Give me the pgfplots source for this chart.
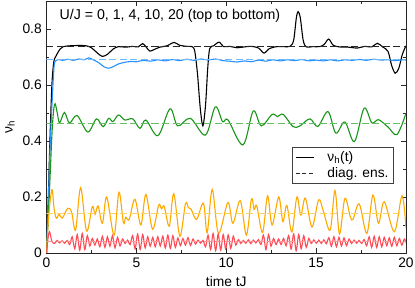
\documentclass[border=0pt]{standalone}
\usepackage{fontspec}
\setmainfont{Liberation Sans}
\usepackage{pgfplots}
\pgfplotsset{compat=1.18}
\definecolor{cblue}{RGB}{40,145,255}
\definecolor{cgreen}{RGB}{25,150,25}
\definecolor{corange}{RGB}{255,168,0}
\definecolor{cred}{RGB}{255,75,85}
\definecolor{dblue}{RGB}{110,185,255}
\definecolor{dgreen}{RGB}{100,190,100}
\definecolor{dorange}{RGB}{255,208,100}
\definecolor{dred}{RGB}{255,150,150}
\newcommand{\ff}{\fontsize{13.8}{16}\selectfont}
\begin{document}
\ff
\begin{tikzpicture}
\path[use as bounding box] (-46.5pt,-35pt) rectangle (368.5pt,253pt);
\begin{axis}[
  at={(0,0)}, anchor=south west,
  scale only axis, width=359.5pt, height=252pt,
  xmin=0, xmax=20, ymin=0, ymax=0.9,
  xtick={0,5,10,15,20}, ytick={0,0.2,0.4,0.6,0.8},
  minor x tick num=1, minor y tick num=1,
  tick align=inside, major tick length=5pt, minor tick length=3pt,
  /pgf/number format/assume math mode=true,
  /pgf/number format/fixed,
  tick label style={font=\ff},
  label style={font=\ff},
  axis line style={line width=0.8pt, black!85},
  every tick/.style={line width=0.7pt, black!85},
  xlabel={time tJ}, ylabel={ν\textsubscript{h}},
  xlabel style={at={(axis description cs:0.5,-0.131)}, anchor=base, inner sep=0pt},
  ylabel style={at={(axis description cs:-0.1015,0.5)}, anchor=center},
  legend style={at={(axis description cs:0.683,0.421)}, anchor=north west,
    draw=black!75, line width=0.6pt, font=\ff,
    inner xsep=3pt, inner ysep=2pt, row sep=0pt},
  legend cell align=left,
  legend image code/.code={\draw[#1] (0pt,0pt) -- (18pt,0pt); \path (29pt,0pt);},
  clip=true,
]
% U/J = 0 (black)
\addplot[black, line width=1.1pt, smooth, tension=0.5] coordinates {
(0,0) (0.1,0.2) (0.2,0.42) (0.3,0.6) (0.4,0.68) (0.5,0.7) (0.6,0.712) (0.75,0.728) (0.93,0.737)
(1.3,0.740) (1.8,0.741) (2.2,0.740) (2.5,0.733) (2.8,0.716) (3.1,0.702) (3.4,0.710) (3.7,0.728)
(4.0,0.737) (4.4,0.735) (4.8,0.738) (5.1,0.736) (5.35,0.748) (5.55,0.735) (5.75,0.721) (6.0,0.727)
(6.3,0.735) (6.7,0.740) (7.1,0.752) (7.4,0.742) (7.8,0.738) (8.1,0.737) (8.25,0.72) (8.4,0.64)
(8.55,0.52) (8.7,0.454) (8.85,0.53) (8.97,0.66) (9.08,0.73) (9.3,0.74) (9.6,0.753) (9.85,0.737)
(10.2,0.738) (10.6,0.733) (11.0,0.736) (11.4,0.738) (11.8,0.732) (12.1,0.714) (12.4,0.730)
(12.8,0.737) (13.2,0.737) (13.55,0.738) (13.75,0.76) (13.9,0.84) (14.0,0.862) (14.12,0.84)
(14.28,0.76) (14.45,0.736) (14.8,0.737) (15.2,0.737) (15.45,0.745) (15.7,0.764) (15.95,0.742)
(16.3,0.736) (16.8,0.735) (17.3,0.732) (17.7,0.738) (18.1,0.736) (18.4,0.749) (18.7,0.736)
(19.0,0.72) (19.2,0.67) (19.4,0.642) (19.6,0.66) (19.8,0.71) (20,0.74)
};
\addlegendentry{ν\textsubscript{h}(t)}
\addplot[black!85, line width=1pt, dash pattern=on 7pt off 3.5pt,
  legend image code/.code={\draw[black!85, line width=1pt, dash pattern=on 4pt off 2.5pt] (0pt,0pt) -- (18pt,0pt); \path (29pt,0pt);}]
  coordinates {(0,0.736) (20,0.736)};
\addlegendentry{diag. ens.}
% U/J = 1 (blue)
\addplot[cblue, line width=1.1pt, smooth, tension=0.5, forget plot] coordinates {
(0,0) (0.1,0.18) (0.2,0.38) (0.32,0.55) (0.42,0.665) (0.5,0.686) (0.65,0.691) (0.9,0.688)
(1.2,0.692) (1.5,0.688) (1.8,0.693) (2.1,0.690) (2.35,0.697) (2.6,0.690) (2.9,0.680) (3.2,0.665)
(3.45,0.660) (3.7,0.665) (4.0,0.675) (4.35,0.681) (4.7,0.684) (5.0,0.683) (5.4,0.688) (5.8,0.685)
(6.2,0.690) (6.6,0.686) (7.0,0.691) (7.4,0.687) (7.8,0.692) (8.2,0.688) (8.6,0.693) (9.0,0.689)
(9.4,0.693) (9.8,0.687) (10.2,0.685) (10.6,0.682) (11.0,0.686) (11.4,0.683) (11.8,0.689)
(12.2,0.685) (12.6,0.690) (13.0,0.686) (13.4,0.690) (13.8,0.687) (14.2,0.691) (14.6,0.686)
(15.0,0.689) (15.4,0.686) (15.8,0.690) (16.2,0.686) (16.6,0.690) (17.0,0.688) (17.4,0.691)
(17.8,0.688) (18.2,0.692) (18.6,0.689) (19.0,0.690) (19.4,0.687) (19.8,0.690) (20,0.689)
};
\addplot[dblue, line width=1pt, dash pattern=on 7pt off 3.5pt, forget plot] coordinates {(0,0.692) (20,0.692)};
% U/J = 4 (green)
\addplot[cgreen, line width=1.1pt, smooth, tension=0.55, forget plot] coordinates {
(0,0) (0.15,0.2) (0.3,0.42) (0.4,0.51) (0.48,0.533) (0.6,0.5) (0.73,0.465) (1.0,0.502)
(1.28,0.464) (1.7,0.491) (2.3,0.432) (2.78,0.479) (3.15,0.451) (3.46,0.481) (3.7,0.469)
(4.0,0.493) (4.36,0.475) (4.8,0.479) (5.2,0.445) (5.53,0.475) (6.2,0.419) (6.87,0.515)
(7.3,0.454) (8.0,0.481) (8.84,0.421) (9.39,0.522) (9.8,0.469) (10.1,0.475) (10.93,0.386)
(11.5,0.507) (11.95,0.454) (12.55,0.495) (12.85,0.487) (13.17,0.495) (13.72,0.451) (14.1,0.454)
(14.65,0.479) (15.1,0.452) (15.66,0.505) (16.1,0.428) (16.6,0.468) (17.13,0.398) (17.67,0.517)
(18.1,0.465) (18.47,0.476) (19.0,0.45) (19.5,0.423) (20,0.499)
};
\addplot[dgreen, line width=1pt, dash pattern=on 7pt off 3.5pt, forget plot] coordinates {(0,0.461) (20,0.461)};
% U/J = 10 (orange)
\addplot[corange, line width=1.1pt, smooth, tension=0.55, forget plot] coordinates {
(0,0) (0.12,0.13) (0.3,0.226) (0.42,0.16) (0.55,0.124) (0.7,0.138) (0.88,0.125) (1.19,0.160)
(1.4,0.145) (1.62,0.082) (1.9,0.233) (2.23,0.078) (2.55,0.166) (2.7,0.138) (2.87,0.168)
(3.11,0.106) (3.35,0.200) (3.76,0.064) (4.03,0.217) (4.28,0.108) (4.41,0.128) (4.6,0.120)
(4.92,0.192) (5.25,0.100) (5.53,0.209) (5.9,0.085) (6.24,0.171) (6.4,0.158) (6.55,0.166)
(6.83,0.096) (7.08,0.212) (7.42,0.060) (7.73,0.176) (7.9,0.162) (8.05,0.156) (8.35,0.120)
(8.73,0.178) (8.94,0.073) (9.22,0.227) (9.57,0.070) (10.09,0.180) (10.37,0.106) (10.78,0.187)
(11.12,0.064) (11.4,0.193) (11.55,0.155) (11.7,0.168) (12.02,0.073) (12.3,0.204) (12.55,0.100)
(12.92,0.200) (13.15,0.112) (13.37,0.170) (13.65,0.075) (13.93,0.200) (14.15,0.135) (14.4,0.196)
(14.77,0.093) (15.14,0.190) (15.4,0.150) (15.78,0.082) (16.05,0.223) (16.3,0.068) (16.6,0.195)
(16.9,0.130) (17.05,0.120) (17.4,0.175) (17.82,0.070) (18.16,0.207) (18.47,0.106) (18.79,0.183)
(19.35,0.076) (19.78,0.204) (20,0.088)
};
\addplot[dorange, line width=1pt, dash pattern=on 7pt off 3.5pt, forget plot] coordinates {(0,0.142) (20,0.142)};
% U/J = 20 (red)
\addplot[cred, line width=1.1pt, smooth, tension=0.5, forget plot] coordinates {
(0,0) (0.08,0.05) (0.17,0.076) (0.3,0.042)
(0.45,0.034) (0.59,0.045) (0.73,0.036) (0.87,0.044) (1.01,0.035) (1.15,0.045) (1.29,0.030)
(1.43,0.058) (1.57,0.015) (1.71,0.066) (1.85,0.010) (1.99,0.070) (2.13,0.012) (2.27,0.062)
(2.41,0.025) (2.55,0.052) (2.69,0.028) (2.83,0.050) (2.97,0.022) (3.11,0.060) (3.25,0.020)
(3.39,0.058) (3.53,0.024) (3.67,0.062) (3.81,0.018) (3.95,0.056) (4.09,0.025) (4.23,0.050)
(4.37,0.034) (4.51,0.046) (4.65,0.030) (4.79,0.062) (4.93,0.014) (5.07,0.068) (5.21,0.012)
(5.35,0.066) (5.49,0.018) (5.63,0.058) (5.77,0.024) (5.91,0.056) (6.05,0.022) (6.19,0.058)
(6.33,0.025) (6.47,0.060) (6.61,0.018) (6.75,0.064) (6.89,0.016) (7.03,0.062) (7.17,0.020)
(7.31,0.054) (7.45,0.026) (7.59,0.052) (7.73,0.028) (7.87,0.055) (8.01,0.027) (8.15,0.050)
(8.29,0.032) (8.43,0.046) (8.57,0.035) (8.71,0.045) (8.85,0.022) (8.99,0.064) (9.13,0.012)
(9.27,0.070) (9.41,0.008) (9.55,0.068) (9.69,0.010) (9.83,0.066) (9.97,0.014) (10.11,0.065)
(10.25,0.016) (10.39,0.060) (10.53,0.028) (10.67,0.048) (10.81,0.034) (10.95,0.045) (11.09,0.035)
(11.23,0.047) (11.37,0.033) (11.51,0.046) (11.65,0.036) (11.79,0.048) (11.93,0.030) (12.07,0.064)
(12.21,0.012) (12.35,0.066) (12.49,0.024) (12.63,0.052) (12.77,0.030) (12.91,0.050) (13.05,0.030)
(13.19,0.052) (13.33,0.026) (13.47,0.062) (13.61,0.014) (13.75,0.068) (13.89,0.008) (14.03,0.066)
(14.17,0.015) (14.31,0.062) (14.45,0.020) (14.59,0.052) (14.73,0.034) (14.87,0.047) (15.01,0.035)
(15.15,0.046) (15.29,0.034) (15.43,0.047) (15.57,0.033) (15.71,0.055) (15.85,0.024) (15.99,0.058)
(16.13,0.022) (16.27,0.056) (16.41,0.025) (16.55,0.054) (16.69,0.026) (16.83,0.050) (16.97,0.034)
(17.11,0.046) (17.25,0.035) (17.39,0.045) (17.53,0.034) (17.67,0.048) (17.81,0.026) (17.95,0.058)
(18.09,0.020) (18.23,0.060) (18.37,0.020) (18.51,0.058) (18.65,0.022) (18.79,0.056) (18.93,0.026)
(19.07,0.054) (19.21,0.024) (19.35,0.056) (19.49,0.026) (19.63,0.052) (19.77,0.028) (19.91,0.050)
(20.05,0.030)
};
\addplot[dred, line width=1pt, dash pattern=on 7pt off 3.5pt, forget plot] coordinates {(0,0.040) (20,0.040)};
\node[anchor=base west, font=\fontsize{14.2}{16}\selectfont] at (rel axis cs:0.023,0.9266) {U/J = 0, 1, 4, 10, 20 (top to bottom)};
\end{axis}
\end{tikzpicture}
\end{document}
